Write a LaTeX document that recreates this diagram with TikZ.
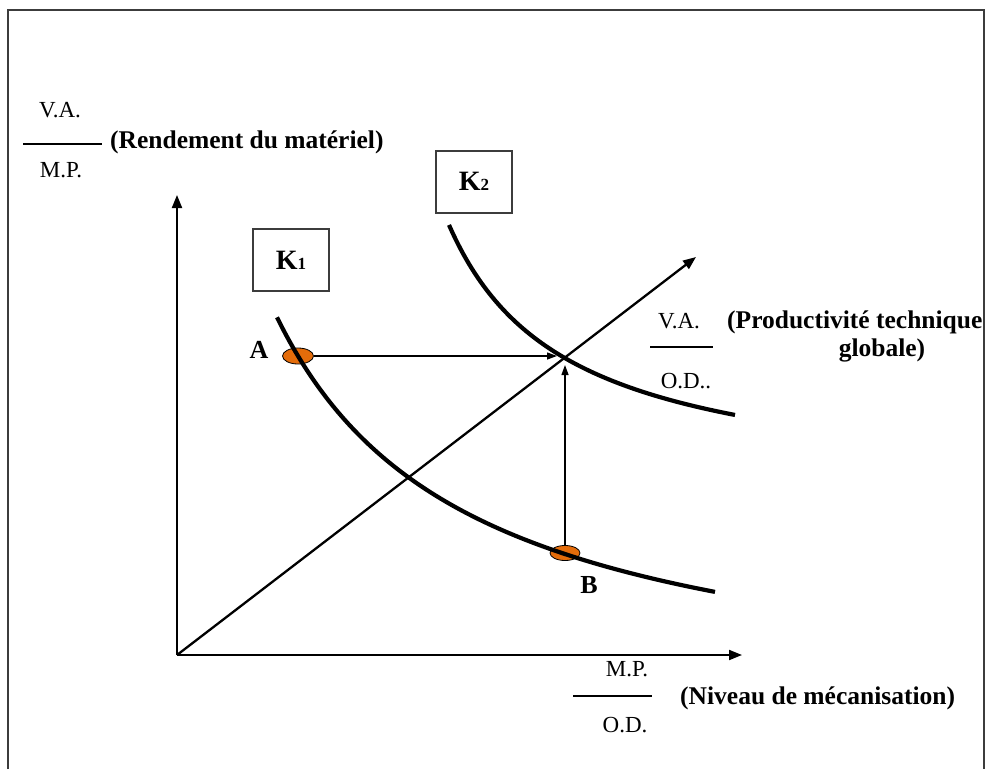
\documentclass[tikz,border=0pt]{standalone}
\usepackage{fontspec}
\setmainfont{Liberation Serif}
\usetikzlibrary{arrows.meta,shapes.geometric}
\definecolor{dotorange}{RGB}{228,108,10}
\definecolor{framegray}{RGB}{60,60,60}
\begin{document}
\begin{tikzpicture}[x=1pt,y=-1pt,
 lbl/.style={inner sep=0pt,font=\fontsize{25.5}{28}\selectfont\bfseries},
 frac/.style={inner sep=0pt,font=\fontsize{23}{26}\selectfont},
 kbox/.style={draw=framegray,line width=2pt,minimum width=76pt,minimum height=62pt,inner sep=0pt},
 axis/.style={line width=2pt,-{Triangle[length=13pt,width=10pt]}},
 curve/.style={line width=4.2pt},
 guide/.style={line width=1.3pt,-{Triangle[length=10pt,width=7pt]}},
 dot/.style={ellipse,draw=black,line width=0.8pt,fill=dotorange,minimum width=31pt,minimum height=16pt,inner sep=0pt},
 rule/.style={line width=1.3pt},
]
\useasboundingbox (0,0) rectangle (986,769);
\draw[framegray,line width=2pt] (8,769) -- (8,10) -- (984,10) -- (984,769);

\coordinate (O) at (177,655);
\coordinate (ytip) at (177,195);
\coordinate (xtip) at (742,655);
\coordinate (dtip) at (696,257);
\coordinate (X) at (564,356);

\node[dot] (A) at (298,356) {};
\node[dot,minimum width=30pt,minimum height=15pt] (B) at (565,553) {};

\draw[axis] (O) -- (ytip);
\draw[axis] (O) -- (xtip);
\draw[axis,line width=2.3pt] (O) -- (dtip);

\draw[curve] plot[domain=277:715,samples=80,smooth] (\x,{713.5-768.62/((\x-83)/100)});
\draw[curve] plot[domain=449:735,samples=80,smooth] (\x,{493-314.96/((\x-331.5)/100)});

\draw[guide,shorten >=7pt] (A.east) -- (A.east -| X);
\draw[guide,shorten >=9pt] (B.north) -- (B.north |- X);

\node[kbox] (K1) at (291,260) {{\fontsize{28}{30}\selectfont\bfseries K}{\fontsize{17}{18}\selectfont\bfseries 1}};
\node[kbox] (K2) at (474,181.5) {{\fontsize{28}{30}\selectfont\bfseries K}{\fontsize{17}{18}\selectfont\bfseries 2}};

\node[lbl,font=\fontsize{26}{28}\selectfont\bfseries,anchor=base] (Alab) at (259,358) {A};
\node[lbl,font=\fontsize{26}{28}\selectfont\bfseries,anchor=base] (Blab) at (589,593) {B};

% y axis label
\node[frac,anchor=base] (yva) at (60,117) {V.A.};
\coordinate (yr1) at (23,144); \coordinate (yr2) at (102,144);
\draw[rule] (yr1) -- (yr2);
\node[frac,anchor=base] (ymp) at (61,177) {M.P.};
\node[lbl,anchor=base west] (ylab) at (110,148) {(Rendement du matériel)};

% x axis label
\node[frac,anchor=base] (xmp) at (627,676) {M.P.};
\coordinate (xr1) at (573,696); \coordinate (xr2) at (652,696);
\draw[rule] (xr1) -- (xr2);
\node[frac,anchor=base] (xod) at (625,732) {O.D.};
\node[lbl,anchor=base west] (xlab) at (680,704) {(Niveau de mécanisation)};

% diagonal label
\node[frac,anchor=base] (dva) at (679,328) {V.A.};
\coordinate (dr1) at (650,347); \coordinate (dr2) at (713,347);
\draw[rule] (dr1) -- (dr2);
\node[frac,anchor=base] (dod) at (686,388) {O.D..};
\node[lbl,anchor=base west] (dlab1) at (727,328) {(Productivité technique};
\node[lbl,anchor=base] (dlab2) at (882,356) {globale)};
\end{tikzpicture}
\end{document}
